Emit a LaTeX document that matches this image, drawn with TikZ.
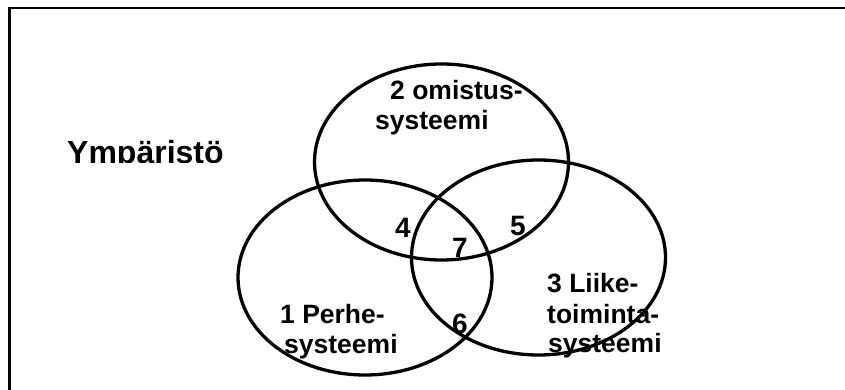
\documentclass[tikz,border=0pt]{standalone}
\usepackage{fontspec}
\setmainfont{Liberation Sans}
\tikzset{
  lbl/.style={anchor=base west,inner sep=0pt,font=\fontsize{26.5}{30}\selectfont\bfseries},
  num/.style={anchor=base,inner sep=0pt,font=\fontsize{28}{30}\selectfont\bfseries},
  sys/.style={line width=3.3pt}
}
\begin{document}
\begin{tikzpicture}[x=1pt,y=-1pt]
    \useasboundingbox (0,0) rectangle (845,390);

    \draw [line width=2.2pt] (845,8) -- (9.5,8) -- (9.5,390);

    \begin{scope}
      \clip (40,120) rectangle (260,162.5);
      \node [anchor=base west,inner sep=0pt,font=\fontsize{32}{36}\selectfont\bfseries] (ymparisto) at (67,163.5) {Ympäristö};
    \end{scope}

    \draw [sys] (441.5,162) ellipse (127 and 98);
    \draw [sys] (365,277.5) ellipse (127 and 97.5);
    \draw [sys] (538.5,257.5) ellipse (127 and 97.5);

    \node [lbl] (omistus) at (390,99.5) {2 omistus-};
    \node [lbl] (omistusb) at (375,129.5) {systeemi};

    \node [lbl] (perhe) at (280,323) {1 Perhe-};
    \node [lbl] (perheb) at (284,353) {systeemi};

    \node [lbl] (liike) at (547,292) {3 Liike-};
    \node [lbl] (liikeb) at (547,323) {toiminta-};
    \node [lbl] (liikec) at (548,352) {systeemi};

    \node [num] (n4) at (403,237) {4};
    \node [num] (n5) at (518,235) {5};
    \node [num] (n6) at (460,333) {6};
    \node [num] (n7) at (460,257) {7};
  \end{tikzpicture}
\end{document}
